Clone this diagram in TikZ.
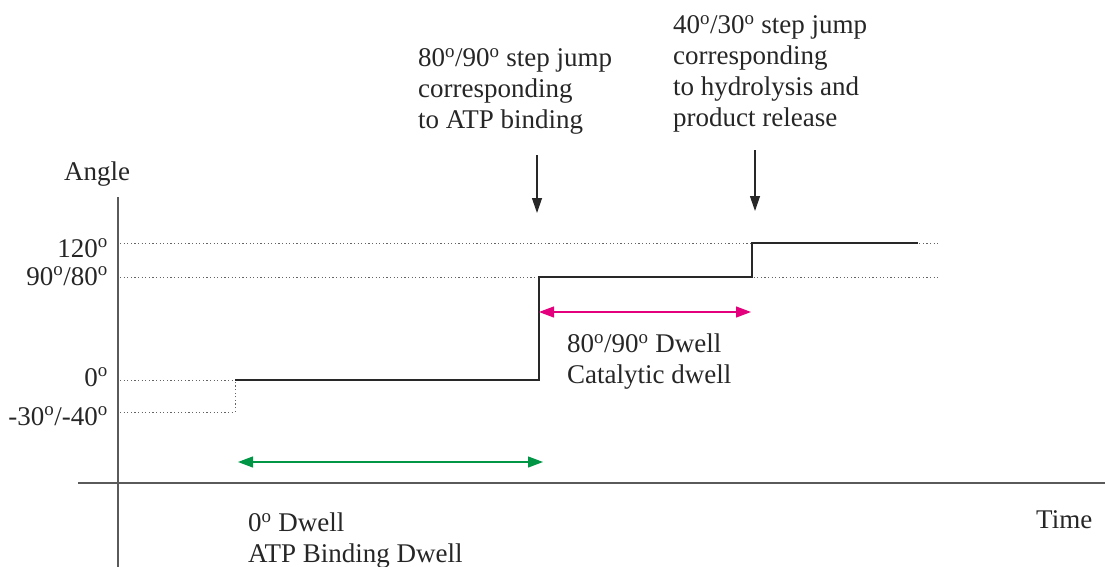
\documentclass[tikz,border=0pt]{standalone}
\usepackage{fontspec}
\setmainfont{Liberation Serif}
\usetikzlibrary{arrows.meta}
\newcommand{\dg}{\textsuperscript{o}}
\definecolor{axisgray}{RGB}{90,90,90}
\definecolor{stepdark}{RGB}{40,40,40}
\definecolor{dotgray}{RGB}{100,100,100}
\definecolor{dwellgreen}{RGB}{0,150,70}
\definecolor{dwellpink}{RGB}{228,0,125}
\tikzset{
  lbl/.style={inner sep=0pt, font=\fontsize{27}{31}\selectfont, text=black!85},
  axisline/.style={draw=axisgray, line width=1.8pt},
  guide/.style={draw=dotgray, line width=1pt, dash pattern=on 1.2pt off 2.4pt},
  stepline/.style={draw=stepdark, line width=1.6pt},
  jumparrow/.style={draw=stepdark, line width=1.2pt, -{Triangle[length=15pt,width=10pt]}},
  dwellarrow/.style={line width=1.2pt, {Triangle[length=15pt,width=11pt]}-{Triangle[length=15pt,width=11pt]}},
}
\begin{document}
\begin{tikzpicture}[x=1pt,y=-1pt]
\path[use as bounding box] (0,0) rectangle (1105,567);
% axes
\coordinate (ytop) at (118,197);
\coordinate (ybot) at (118,567);
\coordinate (xl) at (78,483);
\coordinate (xr) at (1105,483);
\draw[axisline] (ytop) -- (ybot);
\draw[axisline] (xl) -- (xr);
% guide lines
\coordinate (g120a) at (120,243); \coordinate (g120b) at (940,243);
\coordinate (g90a) at (120,277); \coordinate (g90b) at (940,277);
\coordinate (g0a) at (120,380); \coordinate (g0b) at (235,380);
\coordinate (gm30a) at (120,412); \coordinate (gm30b) at (235,412);
\draw[guide] (g120a) -- (g120b);
\draw[guide] (g90a) -- (g90b);
\draw[guide] (g0a) -- (g0b);
\draw[guide] (gm30a) -- (gm30b) -- (g0b);
% step trace
\coordinate (s1) at (539,380);
\coordinate (s2) at (539,277);
\coordinate (s3) at (752,277);
\coordinate (s4) at (752,243);
\coordinate (s5) at (918,243);
\draw[stepline] (g0b) -- (s1) -- (s2) -- (s3) -- (s4) -- (s5);
% axis labels
\node[lbl, anchor=base] (angle) at (97,180) {Angle};
\node[lbl, anchor=base east] (l120) at (108,257) {120\dg};
\node[lbl, anchor=base east] (l90) at (108,285) {90\dg/80\dg};
\node[lbl, anchor=base east] (l0) at (108,386) {0\dg};
\node[lbl, anchor=base east] (lm30) at (108,425) {-30\dg/-40\dg};
\node[lbl, anchor=base west] (time) at (1036,528) {Time};
% jump annotations
\node[lbl, anchor=north west, align=left] (jump1) at (418,48) {80\dg/90\dg{} step jump\\corresponding\\to ATP binding};
\node[lbl, anchor=north west, align=left] (jump2) at (673,15) {40\dg/30\dg{} step jump\\corresponding\\to hydrolysis and\\product release};
\coordinate (a1t) at (537,155); \coordinate (a1b) at (537,213);
\coordinate (a2t) at (755,150); \coordinate (a2b) at (755,211);
\draw[jumparrow] (a1t) -- (a1b);
\draw[jumparrow] (a2t) -- (a2b);
% dwell arrows
\coordinate (pl) at (539,312); \coordinate (pr) at (751,312);
\draw[dwellarrow, draw=dwellpink, fill=dwellpink] (pl) -- (pr);
\coordinate (gl) at (238,462); \coordinate (gr) at (543,462);
\draw[dwellarrow, draw=dwellgreen, fill=dwellgreen] (gl) -- (gr);
\node[lbl, anchor=north west, align=left] (cat) at (567,334) {80\dg/90\dg{} Dwell\\Catalytic dwell};
\node[lbl, anchor=north west, align=left] (atp) at (248,513) {0\dg{} Dwell\\ATP Binding Dwell};
\end{tikzpicture}
\end{document}
